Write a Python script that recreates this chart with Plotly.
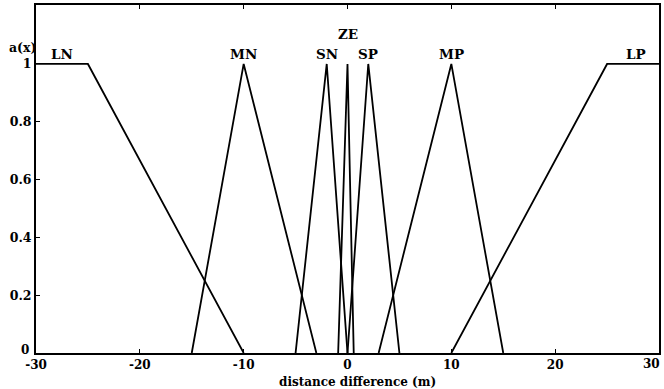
import plotly.graph_objects as go

# Fuzzy membership sets for the distance difference (m): breakpoints and labels
set_names = ["LN", "MN", "SN", "ZE", "SP", "MP", "LP"]
set_x = [
    [-30, -25, -10],
    [-15, -10, -3],
    [-5, -2, 0],
    [-0.9, 0, 0.6],
    [0, 2, 5],
    [3, 10, 15],
    [10, 25, 30],
]
set_mu = [
    [1, 1, 0],
    [0, 1, 0],
    [0, 1, 0],
    [0, 1, 0],
    [0, 1, 0],
    [0, 1, 0],
    [0, 1, 1],
]
# Where each set's name is written (x position, membership height)
label_x = [-27.5, -10, -2, 0, 2, 10, 27.8]
label_y = [1.0, 1.0, 1.0, 1.07, 1.0, 1.0, 1.0]

x_ticks = [-30, -20, -10, 0, 10, 20]
x_tick_text = ["-30", "-20", "-10", "0", "10", "20"]
x_end_tick = 30
x_end_text = "30"
y_ticks = [0.2, 0.4, 0.6, 0.8, 1]
y_tick_text = ["0.2", "0.4", "0.6", "0.8", "1"]
y_origin_text = "0"
x_title = "distance difference (m)"
y_title = "a(x)"

serif = "DejaVu Serif"


def bold(size):
    return dict(family=serif, size=size, color="black", weight="bold")


fig = go.Figure()
for name, xs, ys in zip(set_names, set_x, set_mu):
    fig.add_trace(go.Scatter(
        x=xs, y=ys, mode="lines", name=name,
        line=dict(color="black", width=1.8),
        showlegend=False, hoverinfo="skip",
    ))

for name, lx, ly in zip(set_names, label_x, label_y):
    fig.add_annotation(
        x=lx, y=ly, text=name, showarrow=False,
        xanchor="center", yanchor="bottom", yshift=0,
        font=bold(13.5),
    )

# membership axis caption above the top tick
fig.add_annotation(
    x=0, xref="paper", xanchor="right", xshift=2,
    y=1.0, yanchor="bottom", yshift=7,
    text=y_title, showarrow=False, font=bold(12.5),
)
# origin label of the membership axis, nudged up off the x labels
fig.add_annotation(
    x=0, xref="paper", xanchor="right", xshift=-5,
    y=0, yanchor="middle", yshift=3,
    text=y_origin_text, showarrow=False, font=bold(12),
)
# last x tick label, kept just inside the page's right edge
fig.add_annotation(
    x=x_end_tick, y=0, yref="paper", xanchor="right", yanchor="top",
    xshift=3, yshift=-2, text=x_end_text, showarrow=False, font=bold(12),
)
# x-axis caption
fig.add_annotation(
    x=1, y=0, yref="paper", xanchor="center", yanchor="top", yshift=-20,
    text=x_title, showarrow=False, font=bold(12),
)

fig.update_layout(
    width=664, height=389,
    margin=dict(l=36, r=3, t=5, b=36),
    paper_bgcolor="white", plot_bgcolor="white",
    font=bold(12.5),
)
fig.update_xaxes(
    range=[-30, 30], tickvals=x_ticks + [x_end_tick],
    ticktext=x_tick_text + [""],
    ticks="inside", ticklen=4, tickwidth=1.2, tickcolor="black",
    showline=True, linecolor="black", linewidth=2, mirror="ticks",
    showgrid=False, zeroline=False,
    tickfont=bold(12),
)
fig.update_yaxes(
    range=[0, 1.204], tickvals=y_ticks, ticktext=y_tick_text,
    ticks="inside", ticklen=4, tickwidth=1.2, tickcolor="black",
    showline=True, linecolor="black", linewidth=2, mirror=True,
    showgrid=False, zeroline=False,
    tickfont=bold(12.5),
)

fig.write_html("out.html")
